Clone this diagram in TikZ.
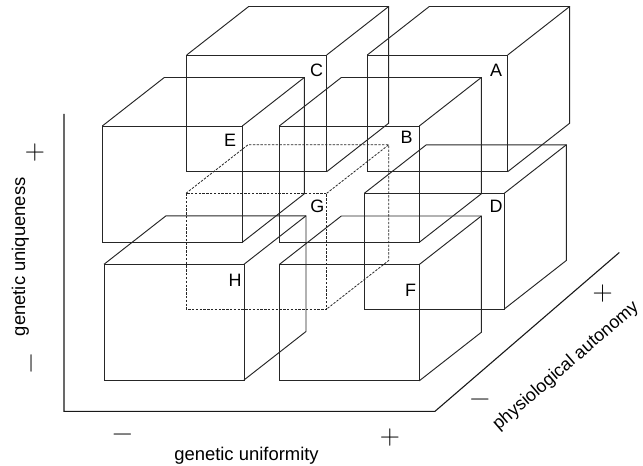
\documentclass[tikz,border=0pt]{standalone}
\usepackage{fontspec}
\newfontfamily\labfont{Liberation Sans}
\begin{document}
\begin{tikzpicture}[x=1bp,y=-1bp,
  cubeline/.style={line width=0.95bp, draw=black!85},
  hiddencube/.style={dash pattern=on 2.4bp off 1.4bp, line width=0.8bp},
  letter/.style={font=\labfont\fontsize{18}{20}\selectfont, inner sep=0pt},
  axislabel/.style={font=\labfont\fontsize{18.5}{22}\selectfont, inner sep=0pt},
  sign/.style={font=\fontsize{28}{30}\selectfont, inner sep=0pt},
  axisline/.style={line width=1.1bp, draw=black!90}]
\useasboundingbox (0,0) rectangle (643,466);
% cube: #1 options, (#2,#3) front top-left, #4 width, #5 height
\newcommand\mycube[5][]{%
  \draw[cubeline,#1] (#2,#3) rectangle ++(#4,#5);
  \draw[cubeline,#1] (#2,#3) -- ++(62,-48.5) -- ++(#4,0) -- ++(0,#5) -- ++(-62,48.5);
  \draw[cubeline,#1] ({#2+#4},#3) -- ++(62,-48.5);
}
% back layer
\mycube{186.7}{55}{140}{116.7}
\mycube{367.3}{55}{140.4}{116.7}
\mycube[hiddencube]{186}{193.3}{140.7}{115.7}
\mycube{364.3}{193.3}{140}{115.7}
% front layer
\mycube{102.3}{126}{140}{116.3}
\mycube{279.3}{126}{140}{116.3}
\mycube{104}{264.3}{140}{115.7}
\mycube{279.3}{264.5}{140}{116.3}
% letters
\node[letter] (C) at (316.7,70) {C};
\node[letter] (A) at (496,70) {A};
\node[letter] (E) at (230,140) {E};
\node[letter] (B) at (406.7,137.3) {B};
\node[letter] (G) at (317.3,206.7) {G};
\node[letter] (D) at (496,206.7) {D};
\node[letter] (H) at (235,280) {H};
\node[letter] (F) at (410.7,290.7) {F};
% axes
\coordinate (ytop) at (64,114);
\coordinate (origin) at (64,411.3);
\coordinate (xend) at (435,411.3);
\coordinate (zend) at (619.3,252.5);
\draw[axisline] (ytop) -- (origin) -- (xend) -- (zend);
% signs
\node[sign] (yplus) at (35,152.7) {+};
\node[sign,rotate=90] (yminus) at (34.3,363.7) {−};
\node[sign] (xminus) at (122.5,437.7) {−};
\node[sign] (xplus) at (390,437.7) {+};
\node[sign] (zminus) at (480,402.7) {−};
\node[sign] (zplus) at (602.7,294) {+};
% axis labels
\node[axislabel,rotate=90,anchor=base] (ylab) at (25,256.7) {genetic uniqueness};
\node[axislabel,anchor=base] (xlab) at (246.5,460.5) {genetic uniformity};
\node[axislabel,rotate=41,font=\labfont\fontsize{18}{22}\selectfont] (zlab) at (566,366) {physiological autonomy};
\end{tikzpicture}
\end{document}
